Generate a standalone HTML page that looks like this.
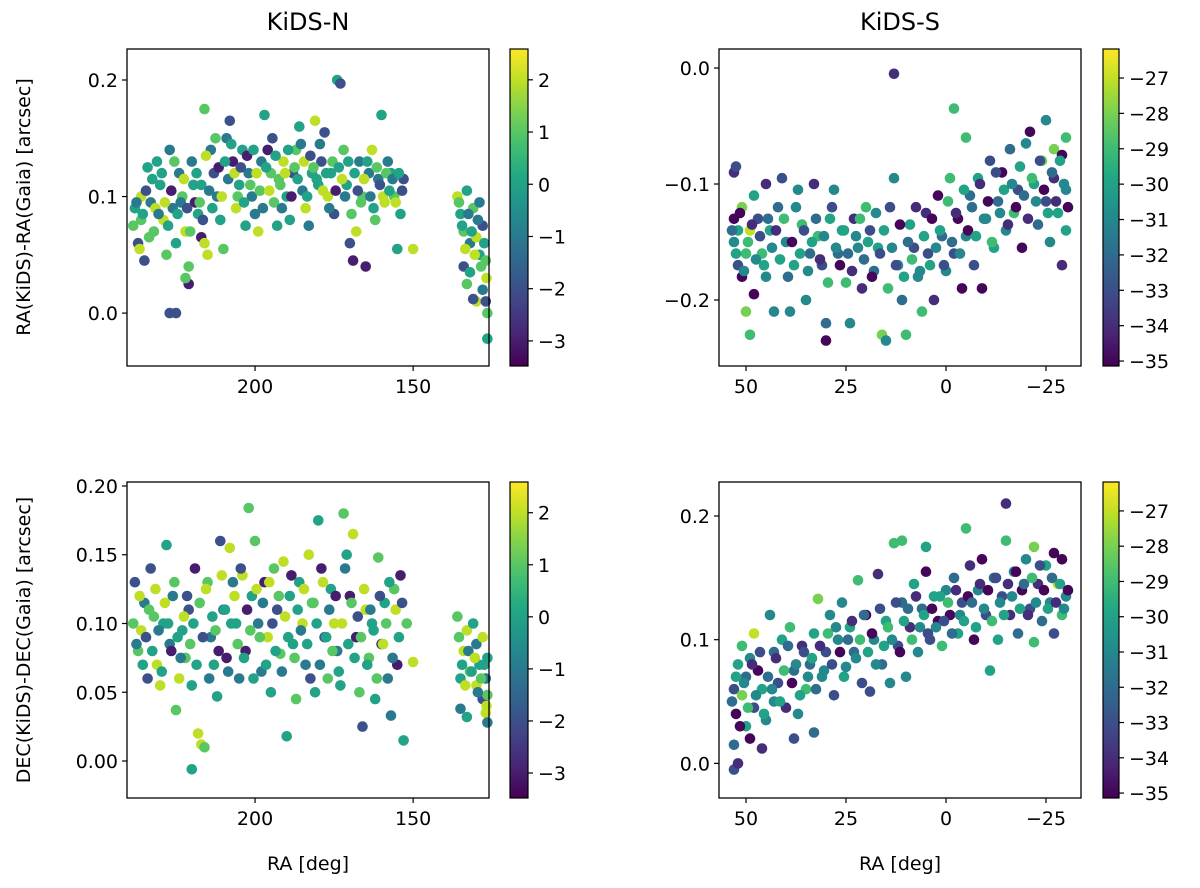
<!DOCTYPE html>
<html><head><meta charset="utf-8"><style>
html,body{margin:0;padding:0;background:#fff;}
svg{display:block;font-family:"DejaVu Sans","Liberation Sans",sans-serif;}
</style></head><body>
<svg id="fig" width="1200" height="888" viewBox="0 0 1200 888" xmlns="http://www.w3.org/2000/svg">
<defs>
<linearGradient id="vir" x1="0" y1="1" x2="0" y2="0">
<stop offset="0" stop-color="#440154"/><stop offset="0.1" stop-color="#482475"/><stop offset="0.2" stop-color="#414487"/><stop offset="0.3" stop-color="#355f8d"/><stop offset="0.4" stop-color="#2a788e"/><stop offset="0.5" stop-color="#21918c"/><stop offset="0.6" stop-color="#22a884"/><stop offset="0.7" stop-color="#44bf70"/><stop offset="0.8" stop-color="#7ad151"/><stop offset="0.9" stop-color="#bddf26"/><stop offset="1" stop-color="#fde725"/>
</linearGradient>
</defs>
<text x="308" y="30" font-size="24" text-anchor="middle">KiDS-N</text>
<text x="900" y="30" font-size="24" text-anchor="middle">KiDS-S</text>
<text transform="translate(30,207) rotate(-90)" font-size="19" text-anchor="middle">RA(KiDS)-RA(Gaia) [arcsec]</text>
<text transform="translate(30,640) rotate(-90)" font-size="19" text-anchor="middle">DEC(KiDS)-DEC(Gaia) [arcsec]</text>
<text x="308" y="870" font-size="19" text-anchor="middle">RA [deg]</text>
<text x="900" y="870" font-size="19" text-anchor="middle">RA [deg]</text>
</svg>
<script>
// ---- data: KiDS-N, RA offsets ----
const tlRa=[238,237,236,235,236,234,233,232,231,230,229,228,227,226,225,224,223,222,221,227,225,221,222,220,219,218,217,216,215,217,216,214,213,212,211,210,209,208,207,206,205,204,203,202,201,200,199,198,197,196,195,194,193,192,191,190,189,188,187,186,185,184,183,182,181,180,179,178,177,176,175,174,173,172,171,170,169,168,167,166,165,164,163,162,161,160,159,158,157,156,155,154,153,150,136,135,134,134,133,132,132,131,130,130,129,129,128,128,127,127,126.5,126.5,131,133];
const tlDy=[0.09,0.06,0.10,0.045,0.08,0.125,0.095,0.07,0.13,0.11,0.08,0.05,0.14,0.09,0.06,0.12,0.10,0.07,0.04,0.0,0.0,0.025,0.03,0.13,0.095,0.085,0.065,0.06,0.05,0.11,0.175,0.14,0.12,0.10,0.08,0.055,0.15,0.165,0.13,0.09,0.11,0.14,0.075,0.12,0.10,0.085,0.07,0.13,0.17,0.14,0.12,0.095,0.075,0.11,0.13,0.10,0.08,0.12,0.14,0.16,0.105,0.09,0.075,0.12,0.165,0.11,0.13,0.155,0.10,0.12,0.085,0.20,0.197,0.14,0.11,0.06,0.045,0.07,0.13,0.10,0.04,0.12,0.14,0.08,0.115,0.17,0.095,0.13,0.12,0.10,0.055,0.085,0.115,0.055,0.10,0.085,0.07,0.04,0.105,0.06,0.035,0.09,0.065,0.01,0.05,0.095,0.075,0.02,0.045,0.01,0.0,-0.022,0.012,0.025];
const tlCol=[0,-2,2,-2,1,0,-1,1,0,0,2,1,-1,-1,0,-1,1,2,1,-2,-2,-3,1,-1,-3,0,-3,2,2,0,1,-1,-2,-1,0,1,-1,-2,-3,2,0,0,0,-1,-1,-1,2,-1,0,-3,1,1,0,1,2,0,0,-2,1,0,-1,2,-1,0,2,0,-2,-2,2,0,-2,0,-2,1,0,-2,-3,2,-1,1,-3,-1,2,1,-1,0,2,-1,0,1,0,0,-2,2,2,0,1,-2,0,-1,0,1,2,2,0,-1,-2,-1,1,-2,1,0,-2,1];
const nRaMore=[238.5,237.5,236.5,235.5,234.5,233.5,232.5,231.5,230.5,229.5,228.5,227.5,226.5,225.5,224.5,223.5,222.5,221.5,220.5,219.5,218.5,217.5,216.5,215.5,214.5,213.5,212.5,211.5,210.5,209.5,208.5,207.5,206.5,205.5,204.5,203.5,202.5,201.5,200.5,199.5,198.5,197.5,196.5,195.5,194.5,193.5,192.5,191.5,190.5,189.5,188.5,187.5,186.5,185.5,184.5,183.5,182.5,181.5,180.5,179.5,178.5,177.5,176.5,175.5,174.5,173.5,172.5,171.5,170.5,169.5,168.5,167.5,166.5,165.5,164.5,163.5,162.5,161.5,160.5,159.5,158.5,157.5,156.5,155.5,154.5,153.5,135.5,134.5,133.5,132.5,131.5,130.5,129.5,128.5,127.5,126.8];
const tlDyMore=[0.075,0.095,0.055,0.085,0.105,0.065,0.115,0.09,0.085,0.12,0.095,0.075,0.105,0.13,0.085,0.095,0.115,0.09,0.07,0.11,0.12,0.095,0.08,0.135,0.105,0.09,0.15,0.125,0.10,0.13,0.115,0.145,0.12,0.10,0.125,0.095,0.135,0.11,0.14,0.12,0.105,0.09,0.125,0.105,0.15,0.135,0.115,0.09,0.12,0.14,0.10,0.125,0.115,0.145,0.13,0.10,0.135,0.125,0.115,0.145,0.105,0.12,0.09,0.13,0.105,0.125,0.115,0.10,0.13,0.085,0.12,0.105,0.095,0.115,0.13,0.10,0.09,0.125,0.11,0.10,0.12,0.105,0.115,0.095,0.12,0.105,0.095,0.075,0.055,0.085,0.07,0.05,0.08,0.04,0.06,0.03];
const nColMore=[1,-1,2,0,-2,1,0,2,-1,0,2,0,-3,1,0,-1,2,-2,1,0,0,1,-2,2,-1,0,1,-3,2,0,-1,0,2,1,-2,0,-3,1,0,2,1,-1,0,2,-2,0,1,-1,2,0,-3,1,0,-1,2,0,-2,1,0,-1,2,0,-1,1,-3,0,2,-1,0,1,0,-2,1,2,0,-1,0,1,-2,2,1,0,-1,2,0,-2,1,0,2,-1,0,2,-1,1,0,2];
// ---- data: KiDS-S, RA offsets ----
const trRa=[53,52.5,53,52,53,52,51,50,51,50,49,49,48,48,47,46,45,45,44,43,42,41,40,39,38,37,36,35,34,33,32,31,30,30,29,28,27,26,25,24,23,22,21,20,19,18,17,16,15,14,13,13,12,11,10,9,8,7,6,5,4,3,2,1,0,-1,-2,-2,-3,-4,-5,-5,-6,-7,-8,-9,-10,-11,-12,-13,-14,-15,-16,-17,-18,-19,-20,-21,-22,-23,-24,-25,-25,-26,-27,-27,-28,-29,-29,-30,-30,-30];
const trDy=[-0.09,-0.085,-0.13,-0.14,-0.15,-0.17,-0.12,-0.16,-0.18,-0.21,-0.23,-0.14,-0.195,-0.11,-0.13,-0.16,-0.10,-0.18,-0.14,-0.21,-0.12,-0.095,-0.15,-0.21,-0.17,-0.105,-0.135,-0.20,-0.16,-0.10,-0.145,-0.17,-0.22,-0.235,-0.13,-0.105,-0.16,-0.14,-0.185,-0.22,-0.13,-0.155,-0.19,-0.12,-0.14,-0.175,-0.155,-0.23,-0.235,-0.12,-0.005,-0.095,-0.17,-0.20,-0.23,-0.135,-0.155,-0.18,-0.21,-0.125,-0.17,-0.20,-0.11,-0.145,-0.175,-0.095,-0.035,-0.16,-0.13,-0.19,-0.06,-0.145,-0.11,-0.17,-0.095,-0.19,-0.13,-0.08,-0.155,-0.115,-0.09,-0.14,-0.07,-0.125,-0.105,-0.155,-0.065,-0.055,-0.10,-0.135,-0.08,-0.115,-0.045,-0.15,-0.095,-0.07,-0.125,-0.075,-0.17,-0.06,-0.105,-0.14];
const trCol=[-34,-33,-35,-30,-31,-33,-28,-29,-35,-28,-29,-27,-35,-30,-33,-29,-34,-31,-30,-31,-32,-33,-31,-31,-30,-31,-29,-31,-32,-34,-29,-33,-32,-35,-30,-31,-32,-30,-29,-31,-34,-31,-34,-29,-33,-32,-30,-28,-31,-33,-34,-31,-31,-32,-29,-30,-33,-31,-29,-34,-30,-34,-35,-32,-31,-29,-29,-33,-35,-35,-29,-31,-32,-33,-30,-35,-31,-33,-30,-32,-35,-31,-32,-29,-33,-35,-31,-35,-30,-32,-28,-33,-31,-31,-34,-28,-30,-35,-34,-29,-31,-30];
const sRaMore=[53.5,52.5,51.5,50.5,49.5,48.5,47.5,46.5,45.5,44.5,43.5,42.5,41.5,40.5,39.5,38.5,37.5,36.5,35.5,34.5,33.5,32.5,31.5,30.5,29.5,28.5,27.5,26.5,25.5,24.5,23.5,22.5,21.5,20.5,19.5,18.5,17.5,16.5,15.5,14.5,13.5,12.5,11.5,10.5,9.5,8.5,7.5,6.5,5.5,4.5,3.5,2.5,1.5,0.5,-0.5,-1.5,-2.5,-3.5,-4.5,-5.5,-6.5,-7.5,-8.5,-9.5,-10.5,-11.5,-12.5,-13.5,-14.5,-15.5,-16.5,-17.5,-18.5,-19.5,-20.5,-21.5,-22.5,-23.5,-24.5,-25.5,-26.5,-27.5,-28.5,-29.5,-30.5];
const trDyMore=[-0.14,-0.16,-0.125,-0.175,-0.15,-0.135,-0.165,-0.145,-0.17,-0.13,-0.155,-0.14,-0.165,-0.13,-0.18,-0.15,-0.12,-0.16,-0.14,-0.175,-0.15,-0.13,-0.165,-0.145,-0.185,-0.12,-0.155,-0.17,-0.14,-0.16,-0.175,-0.145,-0.13,-0.165,-0.15,-0.18,-0.125,-0.16,-0.14,-0.19,-0.155,-0.17,-0.135,-0.18,-0.15,-0.165,-0.12,-0.175,-0.145,-0.16,-0.13,-0.155,-0.14,-0.17,-0.115,-0.15,-0.125,-0.16,-0.105,-0.14,-0.12,-0.145,-0.10,-0.13,-0.115,-0.15,-0.09,-0.125,-0.105,-0.135,-0.10,-0.12,-0.085,-0.11,-0.13,-0.095,-0.115,-0.08,-0.105,-0.125,-0.09,-0.115,-0.08,-0.10,-0.12];
const sColMore=[-32,-30,-35,-31,-29,-34,-31,-33,-30,-32,-31,-34,-30,-29,-32,-35,-31,-30,-33,-31,-30,-32,-34,-31,-29,-33,-31,-35,-30,-32,-34,-31,-29,-32,-30,-35,-31,-33,-30,-29,-31,-33,-35,-30,-32,-29,-34,-31,-30,-33,-35,-31,-30,-33,-29,-32,-34,-31,-30,-35,-32,-30,-34,-31,-35,-29,-33,-31,-30,-34,-31,-35,-30,-32,-34,-29,-31,-33,-35,-30,-32,-34,-30,-31,-35];
// ---- data: KiDS-N, DEC offsets ----
const blRa=[238,237,236,235,234,233,232,231,230,229,228,227,226,225,224,223,222,221,220,219,218,217,216,220,215,214,213,212,211,210,209,208,207,206,205,204,203,202,201,200,199,198,197,196,195,194,193,192,191,190,189,188,187,186,185,184,183,182,181,180,179,178,177,176,175,174,173,172,171,170,169,168,167,166,165,164,163,162,161,160,159,158,157,156,155,154,153,152,150,136,135,135,134,133,133,132,131,130,130,129,128,128,127,127,126.5,126.5,126.5];
const blDy=[0.13,0.08,0.095,0.115,0.06,0.14,0.105,0.07,0.055,0.10,0.157,0.085,0.12,0.037,0.06,0.095,0.075,0.11,0.055,0.14,0.02,0.012,0.01,-0.006,0.13,0.09,0.07,0.047,0.16,0.11,0.075,0.155,0.13,0.10,0.06,0.135,0.08,0.184,0.12,0.16,0.10,0.065,0.13,0.09,0.05,0.14,0.11,0.078,0.145,0.018,0.12,0.085,0.045,0.13,0.10,0.07,0.15,0.115,0.05,0.175,0.14,0.09,0.06,0.125,0.10,0.08,0.055,0.18,0.15,0.12,0.165,0.09,0.05,0.025,0.11,0.075,0.10,0.045,0.148,0.085,0.115,0.06,0.033,0.125,0.07,0.135,0.015,0.10,0.072,0.105,0.06,0.038,0.08,0.095,0.032,0.065,0.10,0.055,0.085,0.07,0.045,0.09,0.06,0.035,0.075,0.048,0.028];
const blCol=[-2,1,2,-1,-2,-2,1,2,2,0,0,-1,-1,1,2,0,1,-2,0,-3,2,2,1,0,1,-1,0,0,-2,-1,-3,2,-1,0,-1,2,-3,1,0,1,-1,-1,-3,2,0,1,-2,1,2,0,0,0,1,0,2,-1,2,1,0,0,-3,-2,1,0,2,-1,0,1,0,-3,2,-3,1,-2,2,1,0,0,1,-2,0,-1,-1,1,-3,-3,0,1,2,1,0,-1,2,2,0,1,0,2,-1,0,-2,2,-1,2,0,1,-1];
const blDyMore=[0.10,0.085,0.12,0.07,0.09,0.11,0.08,0.125,0.095,0.065,0.115,0.10,0.08,0.13,0.09,0.075,0.105,0.12,0.085,0.10,0.07,0.115,0.09,0.125,0.06,0.105,0.095,0.08,0.135,0.11,0.065,0.10,0.12,0.085,0.14,0.075,0.11,0.095,0.06,0.125,0.09,0.115,0.07,0.13,0.10,0.08,0.12,0.065,0.105,0.09,0.135,0.075,0.11,0.095,0.125,0.085,0.06,0.115,0.10,0.07,0.13,0.09,0.11,0.08,0.12,0.065,0.10,0.14,0.085,0.115,0.075,0.105,0.09,0.125,0.07,0.11,0.095,0.06,0.12,0.085,0.10,0.13,0.075,0.11,0.09,0.115,0.09,0.07,0.055,0.08,0.065,0.075,0.05,0.06,0.07,0.04];
// ---- data: KiDS-S, DEC offsets ----
const brRa=[53,52,53,52.5,53,52,51,51,50,50,49,49,48,48,47,46,46,45,44,43,43,42,41,40,39,38,38,37,36,35,34,33,33,32,31,30,29,28,27,26,25,24,23,22,21,20,19,18,17,16,15,14,13,12,11,11,10,9,8,7,6,5,5,4,3,2,1,0,-1,-2,-3,-4,-5,-6,-7,-8,-9,-10,-11,-12,-13,-14,-15,-15,-16,-17,-18,-19,-20,-21,-22,-22,-23,-24,-25,-26,-27,-27,-28,-29,-29,-30];
const brDy=[-0.005,0.0,0.015,0.04,0.06,0.08,0.095,0.055,0.03,0.07,0.02,0.085,0.105,0.045,0.075,0.012,0.06,0.035,0.12,0.09,0.05,0.065,0.10,0.045,0.11,0.02,0.075,0.04,0.095,0.06,0.08,0.025,0.105,0.133,0.07,0.09,0.12,0.055,0.10,0.13,0.078,0.11,0.09,0.148,0.065,0.12,0.058,0.10,0.153,0.08,0.115,0.065,0.178,0.095,0.18,0.13,0.07,0.11,0.145,0.09,0.125,0.175,0.155,0.10,0.135,0.115,0.095,0.14,0.12,0.15,0.105,0.13,0.19,0.16,0.10,0.14,0.165,0.12,0.075,0.15,0.10,0.135,0.21,0.18,0.12,0.155,0.105,0.14,0.165,0.125,0.098,0.175,0.145,0.115,0.16,0.13,0.105,0.17,0.145,0.12,0.165,0.135];
const brCol=[-33,-34,-32,-35,-33,-30,-29,-28,-30,-32,-35,-31,-27,-33,-35,-34,-30,-31,-31,-32,-31,-33,-30,-34,-29,-33,-32,-31,-34,-29,-32,-32,-30,-28,-31,-33,-31,-33,-31,-31,-31,-30,-32,-29,-33,-35,-33,-31,-34,-32,-30,-31,-29,-33,-29,-32,-31,-34,-30,-31,-32,-30,-35,-33,-30,-35,-29,-31,-35,-32,-30,-33,-29,-34,-35,-31,-35,-33,-30,-32,-30,-33,-34,-29,-34,-31,-32,-35,-31,-33,-29,-28,-34,-32,-30,-31,-33,-35,-27,-29,-35,-31];
const brDyMore=[0.05,0.07,0.03,0.065,0.045,0.08,0.055,0.09,0.04,0.07,0.06,0.085,0.05,0.075,0.095,0.065,0.08,0.055,0.09,0.07,0.085,0.06,0.095,0.075,0.105,0.08,0.11,0.09,0.07,0.10,0.115,0.085,0.10,0.12,0.09,0.105,0.08,0.125,0.095,0.11,0.10,0.13,0.09,0.115,0.125,0.10,0.135,0.11,0.12,0.105,0.125,0.11,0.135,0.115,0.13,0.105,0.14,0.12,0.115,0.135,0.13,0.11,0.145,0.125,0.14,0.115,0.15,0.13,0.12,0.145,0.135,0.155,0.125,0.145,0.12,0.15,0.13,0.16,0.14,0.125,0.15,0.13,0.145,0.125,0.14];
// colorbar ticks
const nTicks=[2,1,0,-1,-2,-3];
const sTicks=[-27,-28,-29,-30,-31,-32,-33,-34,-35];

const NS="http://www.w3.org/2000/svg";
const svg=document.getElementById('fig');
const VIR=['#440154','#482475','#414487','#355f8d','#2a788e','#21918c','#22a884','#44bf70','#7ad151','#bddf26','#fde725'];
function hex(h){return [parseInt(h.slice(1,3),16),parseInt(h.slice(3,5),16),parseInt(h.slice(5,7),16)];}
function viridis(t){t=Math.max(0,Math.min(1,t));const f=t*10,i=Math.min(9,Math.floor(f)),u=f-i;const a=hex(VIR[i]),b=hex(VIR[i+1]);return 'rgb('+a.map((v,k)=>Math.round(v+(b[k]-v)*u)).join(',')+')';}
function mk(tag,attrs,parent){const e=document.createElementNS(NS,tag);for(const k in attrs)e.setAttribute(k,attrs[k]);(parent||svg).appendChild(e);return e;}
function fmt(v,d){const s=Math.abs(v).toFixed(d);return (v<0?'\u2212':'')+s;}

function panel(o){
  const g=mk('g',{});
  
  
  const sx=v=>o.x0+(o.xmax-v)/(o.xmax-o.xmin)*(o.x1-o.x0);
  const sy=v=>o.y1-(v-o.ymin)/(o.ymax-o.ymin)*(o.y1-o.y0);
  const sc=v=>(v-o.cmin)/(o.cmax-o.cmin);
  for(let i=0;i<o.ra.length;i++){
    const c=mk('circle',{cx:sx(o.ra[i]).toFixed(1),cy:sy(o.dy[i]).toFixed(1),r:5.3,fill:viridis(sc(o.col[i]))},g);
    
    
  }
  const box=mk('rect',{x:o.x0,y:o.y0,width:o.x1-o.x0,height:o.y1-o.y0,fill:'none',stroke:'#000','stroke-width':1.3},g);
  
  
  o.xt.forEach(v=>{const x=sx(v);mk('line',{x1:x,x2:x,y1:o.y1,y2:o.y1+5,stroke:'#000','stroke-width':1.2},g);
    const t=mk('text',{x:x,y:o.y1+27,'font-size':19,'text-anchor':'middle'},g);t.textContent=fmt(v,0);
    
    });
  o.yt.forEach(v=>{const y=sy(v);mk('line',{x1:o.x0-5,x2:o.x0,y1:y,y2:y,stroke:'#000','stroke-width':1.2},g);
    const t=mk('text',{x:o.x0-9,y:y+7,'font-size':19,'text-anchor':'end'},g);t.textContent=fmt(v,o.yd);
    
    });
  const cb=mk('rect',{x:o.cx,y:o.y0,width:o.cw,height:o.y1-o.y0,fill:'url(#vir)',stroke:'#000','stroke-width':1.2},g);
  
  
  o.ct.forEach(v=>{const y=o.y1-sc(v)*(o.y1-o.y0);mk('line',{x1:o.cx+o.cw,x2:o.cx+o.cw+5,y1:y,y2:y,stroke:'#000','stroke-width':1.2},g);
    const t=mk('text',{x:o.cx+o.cw+10,y:y+7,'font-size':19},g);t.textContent=fmt(v,0);
    
    });
}
panel({name:'panel-kids-n-ra',ra:tlRa.concat(nRaMore),dy:tlDy.concat(tlDyMore),col:tlCol.concat(nColMore),x0:127,x1:489,y0:49,y1:366,xmin:126,xmax:240.5,ymin:-0.0454,ymax:0.2266,cmin:-3.48,cmax:2.59,xt:[200,150],yt:[0,0.1,0.2],yd:1,cx:510,cw:18,ct:nTicks});
panel({name:'panel-kids-s-ra',ra:trRa.concat(sRaMore),dy:trDy.concat(trDyMore),col:trCol.concat(sColMore),x0:719,x1:1081,y0:49,y1:366,xmin:-33.75,xmax:56.75,ymin:-0.2569,ymax:0.0164,cmin:-35.14,cmax:-26.18,xt:[50,25,0,-25],yt:[0,-0.1,-0.2],yd:1,cx:1103,cw:16,ct:sTicks});
panel({name:'panel-kids-n-dec',ra:blRa.concat(nRaMore),dy:blDy.concat(blDyMore),col:blCol.concat(nColMore),x0:127,x1:489,y0:482,y1:798,xmin:126,xmax:240.5,ymin:-0.0269,ymax:0.2029,cmin:-3.48,cmax:2.59,xt:[200,150],yt:[0,0.05,0.1,0.15,0.2],yd:2,cx:510,cw:18,ct:nTicks});
panel({name:'panel-kids-s-dec',ra:brRa.concat(sRaMore),dy:brDy.concat(brDyMore),col:brCol.concat(sColMore),x0:719,x1:1081,y0:482,y1:798,xmin:-33.75,xmax:56.75,ymin:-0.028,ymax:0.2275,cmin:-35.14,cmax:-26.18,xt:[50,25,0,-25],yt:[0,0.1,0.2],yd:1,cx:1103,cw:16,ct:sTicks});
</script>
</body></html>
